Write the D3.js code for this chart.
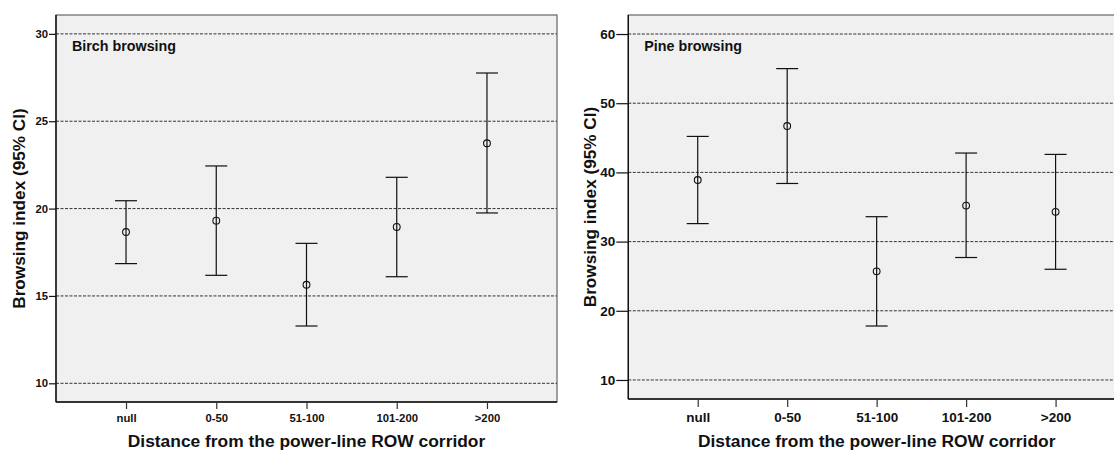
<!DOCTYPE html>
<html>
<head>
<meta charset="utf-8">
<script src="https://cdn.jsdelivr.net/npm/d3@7"></script>
<style>
  body { margin: 0; background: #fff; }
  svg { display: block; font-family: "Liberation Sans", Arial, sans-serif; }
</style>
</head>
<body>
<svg id="chart" width="1114" height="450"></svg>
<script>
// categories along the x axis (distance classes)
const categories = ["null", "0-50", "51-100", "101-200", ">200"];

// birch browsing index, mean and 95% CI
const birchMean = [18.66, 19.31, 15.64, 18.95, 23.74];
const birchLow  = [16.85, 16.18, 13.28, 16.10, 19.75];
const birchHigh = [20.45, 22.44, 18.01, 21.79, 27.76];
const birchTicks = [10, 15, 20, 25, 30];

// pine browsing index, mean and 95% CI
const pineMean = [38.9, 46.7, 25.7, 35.2, 34.3];
const pineLow  = [32.6, 38.4, 17.8, 27.7, 26.0];
const pineHigh = [45.2, 55.0, 33.6, 42.8, 42.6];
const pineTicks = [10, 20, 30, 40, 50, 60];

const svg = d3.select("#chart");

function drawPanel(p) {
  const x = d3.scalePoint().domain(categories).range([p.x0, p.x1]).padding(0.776);
  const y = d3.scaleLinear().domain(p.domain).range([p.y1, p.y0]);
  const g = svg.append("g");

  // plot background
  g.append("rect")
    .attr("x", p.x0).attr("y", p.y0)
    .attr("width", p.x1 - p.x0).attr("height", p.y1 - p.y0)
    .attr("fill", "#f0f0f0")
    .attr("stroke", "#666").attr("stroke-width", 1.2);

  // dashed reference lines
  g.selectAll(".grid").data(p.ticks).join("line")
    .attr("x1", p.x0).attr("x2", p.x1)
    .attr("y1", d => y(d)).attr("y2", d => y(d))
    .attr("stroke", "#333").attr("stroke-width", 1)
    .attr("stroke-dasharray", "3,1.5");

  // left and bottom frame
  g.append("line").attr("x1", p.x0).attr("x2", p.x0).attr("y1", p.y0).attr("y2", p.y1)
    .attr("stroke", "#111").attr("stroke-width", 1.4);
  g.append("line").attr("x1", p.x0).attr("x2", p.x1).attr("y1", p.y1).attr("y2", p.y1)
    .attr("stroke", "#111").attr("stroke-width", 1.4);

  const tickStyle = a => a.selectAll("text").attr("fill", "#111")
    .style("font-size", p.tickFont + "px").style("font-weight", "bold")
    .style("font-family", "'Liberation Sans', Arial, sans-serif");

  // axes
  g.append("g")
    .attr("transform", `translate(${p.x0},0)`)
    .call(d3.axisLeft(y).tickValues(p.ticks).tickSize(p.ytick).tickPadding(1))
    .call(a => a.select(".domain").remove())
    .call(a => a.selectAll("line").attr("stroke", "#111").attr("stroke-width", 1.2))
    .call(tickStyle);

  g.append("g")
    .attr("transform", `translate(0,${p.y1})`)
    .call(d3.axisBottom(x).tickSize(p.xtick).tickPadding(5))
    .call(a => a.select(".domain").remove())
    .call(a => a.selectAll("line").attr("stroke", "#333").attr("stroke-width", 1.2))
    .call(tickStyle);

  // error bars
  const rows = categories.map((c, i) => ({ c, m: p.mean[i], lo: p.low[i], hi: p.high[i] }));
  const bars = g.selectAll(".bar").data(rows).join("g");
  bars.append("line")
    .attr("x1", d => x(d.c)).attr("x2", d => x(d.c))
    .attr("y1", d => y(d.lo)).attr("y2", d => y(d.hi))
    .attr("stroke", "#111").attr("stroke-width", 1.2);
  bars.selectAll(".cap").data(d => [d.lo, d.hi].map(v => ({ c: d.c, v }))).join("line")
    .attr("x1", d => x(d.c) - 11).attr("x2", d => x(d.c) + 11)
    .attr("y1", d => y(d.v)).attr("y2", d => y(d.v))
    .attr("stroke", "#111").attr("stroke-width", 1.2);
  bars.append("circle")
    .attr("cx", d => x(d.c)).attr("cy", d => y(d.m)).attr("r", 3.4)
    .attr("fill", "none").attr("stroke", "#111").attr("stroke-width", 1.1);

  // panel title
  g.append("text")
    .attr("x", p.x0 + 16).attr("y", 50.5)
    .style("font-size", "14.3px").style("font-weight", "bold").attr("fill", "#111")
    .text(p.title);

  // axis titles
  g.append("text")
    .attr("x", (p.x0 + Math.min(p.x1, p.x0 + 501)) / 2).attr("y", 447)
    .attr("text-anchor", "middle")
    .style("font-size", "17.4px").style("font-weight", "bold").attr("fill", "#111")
    .text("Distance from the power-line ROW corridor");

  g.append("text")
    .attr("transform", `translate(${p.ytitleX},${(p.y0 + p.y1) / 2}) rotate(-90)`)
    .attr("text-anchor", "middle")
    .style("font-size", "17.2px").style("font-weight", "bold").attr("fill", "#111")
    .text("Browsing index (95% CI)");
}

drawPanel({
  x0: 56, x1: 557, y0: 15, y1: 402, domain: [8.93, 31.08], ticks: birchTicks,
  mean: birchMean, low: birchLow, high: birchHigh,
  tickFont: 11.3, ytick: 7, xtick: 7, ytitleX: 25, title: "Birch browsing"
});

drawPanel({
  x0: 628.3, x1: 1125, y0: 15, y1: 399, domain: [7.25, 62.75], ticks: pineTicks,
  mean: pineMean, low: pineLow, high: pineHigh,
  tickFont: 13.5, ytick: 12, xtick: 8, ytitleX: 596, title: "Pine browsing"
});
</script>
</body>
</html>
